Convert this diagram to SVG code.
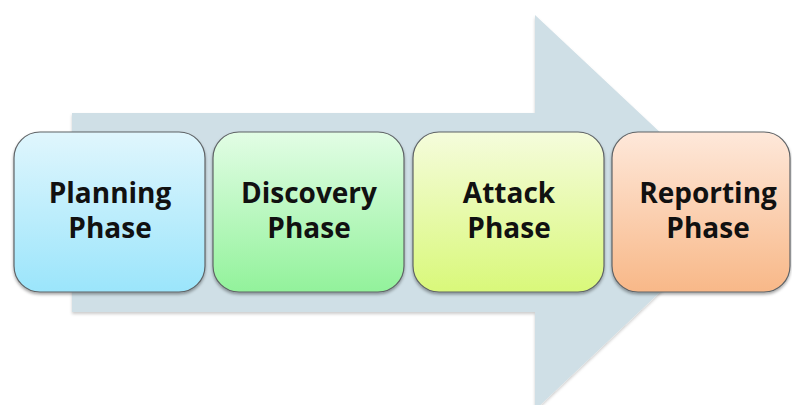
<svg xmlns="http://www.w3.org/2000/svg" width="792" height="405" viewBox="0 0 792 405">
<defs>
<linearGradient id="gBlue" x1="0" y1="0" x2="0" y2="1"><stop offset="0" stop-color="#e0f6fd"/><stop offset="1" stop-color="#9be5fb"/></linearGradient>
<linearGradient id="gGreen" x1="0" y1="0" x2="0" y2="1"><stop offset="0" stop-color="#e2fde5"/><stop offset="1" stop-color="#92f29b"/></linearGradient>
<linearGradient id="gLime" x1="0" y1="0" x2="0" y2="1"><stop offset="0" stop-color="#f5fcdc"/><stop offset="1" stop-color="#d9f87a"/></linearGradient>
<linearGradient id="gOrange" x1="0" y1="0" x2="0" y2="1"><stop offset="0" stop-color="#fee8da"/><stop offset="1" stop-color="#f8b888"/></linearGradient>
<filter id="sh" x="-10%" y="-10%" width="120%" height="125%"><feDropShadow dx="0" dy="2" stdDeviation="1.5" flood-color="#000" flood-opacity="0.35"/></filter>
<filter id="ash" x="-5%" y="-5%" width="110%" height="110%"><feDropShadow dx="0" dy="2" stdDeviation="1.5" flood-color="#000" flood-opacity="0.2"/></filter>
</defs>
<style>
.box{stroke:#5f6366;stroke-width:1.2;filter:url(#sh)}
.lbl{font-family:"Open Sans","DejaVu Sans",sans-serif;font-weight:700;font-size:28px;fill:#111;text-anchor:middle}
</style>
<g id="connectors">
<path d="M72,113 L535,113 L535,15 L745,212 L535,410 L535,312 L72,312 Z" fill="#cfdfe6" filter="url(#ash)"/>
</g>
<g id="planning">
<rect class="box" x="14" y="132" width="191" height="160" rx="26" fill="url(#gBlue)"/>
<text class="lbl" x="110" y="203">Planning</text>
<text class="lbl" x="110" y="238">Phase</text>
</g>
<g id="discovery">
<rect class="box" x="213" y="132" width="191" height="160" rx="26" fill="url(#gGreen)"/>
<text class="lbl" x="309" y="203">Discovery</text>
<text class="lbl" x="309" y="238">Phase</text>
</g>
<g id="attack">
<rect class="box" x="413" y="132" width="191" height="160" rx="26" fill="url(#gLime)"/>
<text class="lbl" x="509" y="203">Attack</text>
<text class="lbl" x="509" y="238">Phase</text>
</g>
<g id="reporting">
<rect class="box" x="612" y="132" width="178" height="160" rx="26" fill="url(#gOrange)"/>
<text class="lbl" x="708" y="203">Reporting</text>
<text class="lbl" x="708" y="238">Phase</text>
</g>
</svg>
